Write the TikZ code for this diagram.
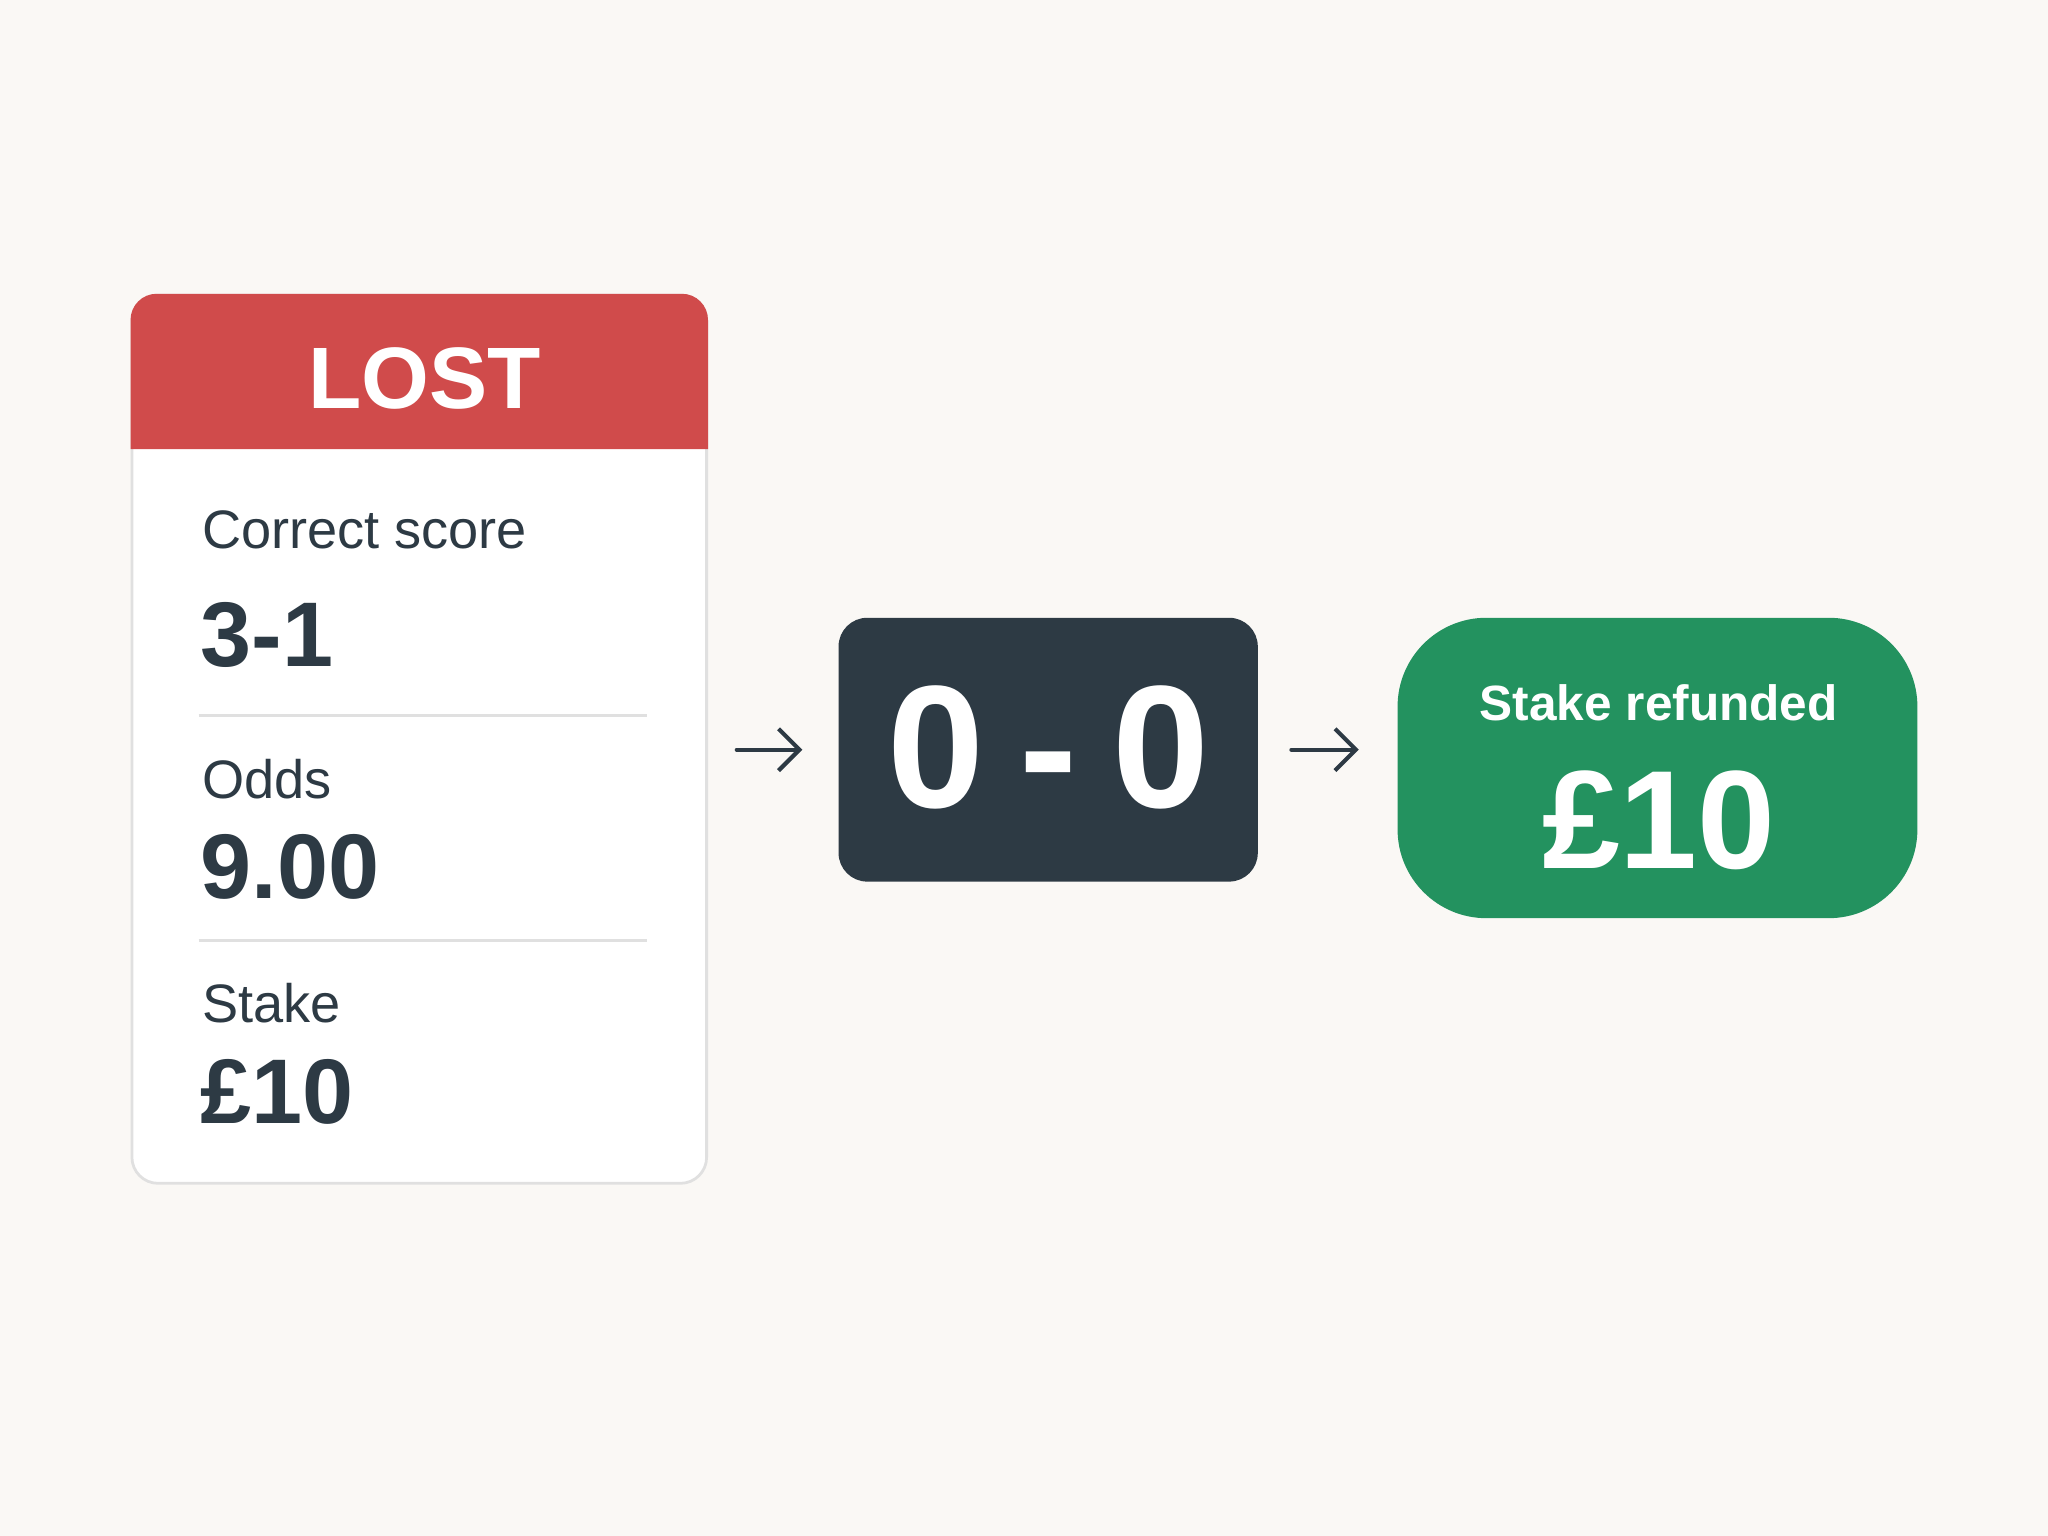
\documentclass[tikz,border=0pt]{standalone}
\usepackage{fontspec}
\setmainfont{Liberation Sans}
\usepackage{xcolor}
\usepackage{tikz}
\usetikzlibrary{arrows.meta, positioning, calc}
\definecolor{bgcream}{RGB}{250,248,245}
\definecolor{lostred}{RGB}{208,75,75}
\definecolor{inkdark}{RGB}{45,58,68}
\definecolor{refundgreen}{RGB}{35,146,95}
\definecolor{rulegray}{RGB}{224,224,224}

\begin{document}
\begin{tikzpicture}[
    cardbox/.style={draw=rulegray,line width=0.6pt,fill=white,rounded corners=0.2cm,minimum width=4.40cm,minimum height=6.80cm},
    scorebox/.style={fill=inkdark,rounded corners=0.22cm,minimum width=3.21cm,minimum height=2.02cm},
    refundbox/.style={fill=refundgreen,rounded corners=0.68cm,minimum width=3.98cm,minimum height=2.30cm},
    label/.style={anchor=base west,inner sep=0pt,text=inkdark,font=\fontsize{11.8}{14}\selectfont},
    value/.style={anchor=base west,inner sep=0pt,text=inkdark,font=\bfseries\fontsize{20}{24}\selectfont},
    flow/.style={draw=inkdark,line width=0.9pt,line cap=round,-{Straight Barb[length=1.6mm,width=3.2mm,line width=0.9pt]}}]

\fill[bgcream] (0,0) rectangle (15.68,11.76);

% bet slip
\node[cardbox] (card) at (3.21,6.10) {};
\fill[lostred] ([yshift=-1.19cm]card.north west) [rounded corners=0.2cm] -- (card.north west) -- (card.north east) [sharp corners] -- ([yshift=-1.19cm]card.north east) -- cycle;
\node[anchor=base,text=white,font=\bfseries\fontsize{19}{23}\selectfont] (lost) at (3.25,8.63) {LOST};

\node[label] (scorelbl) at (1.54,7.56) {Correct score};
\node[value] (scoreval) at (1.53,6.66) {3-1};
\draw[rulegray,line width=0.7pt] (1.52,6.28) -- (4.95,6.28);
\node[label] (oddslbl) at (1.54,5.65) {Odds};
\node[value] (oddsval) at (1.53,4.88) {9.00};
\draw[rulegray,line width=0.7pt] (1.52,4.56) -- (4.95,4.56);
\node[label] (stakelbl) at (1.54,3.93) {Stake};
\node[value] (stakeval) at (1.53,3.16) {£10};

% result and refund
\node[scorebox] (score) at (8.025,6.02) {};
\node[anchor=base,text=white,font=\bfseries\fontsize{38}{42}\selectfont] (final) at (8.03,5.58) {0\hspace{0.2em}-\hspace{0.2em}0};

\node[refundbox] (refund) at (12.69,5.88) {};
\node[anchor=base,text=white,font=\bfseries\fontsize{10.8}{13}\selectfont] (reflbl) at (12.70,6.24) {Stake refunded};
\node[anchor=base,text=white,font=\bfseries\fontsize{30.5}{34}\selectfont] (refval) at (12.70,5.11) {£10};

\draw[flow,shorten <=0.22cm,shorten >=0.27cm] (score.west -| card.east) -- (score.west);
\draw[flow,shorten <=0.25cm,shorten >=0.29cm] (score.east) -- (score.east -| refund.west);
\end{tikzpicture}
\end{document}
